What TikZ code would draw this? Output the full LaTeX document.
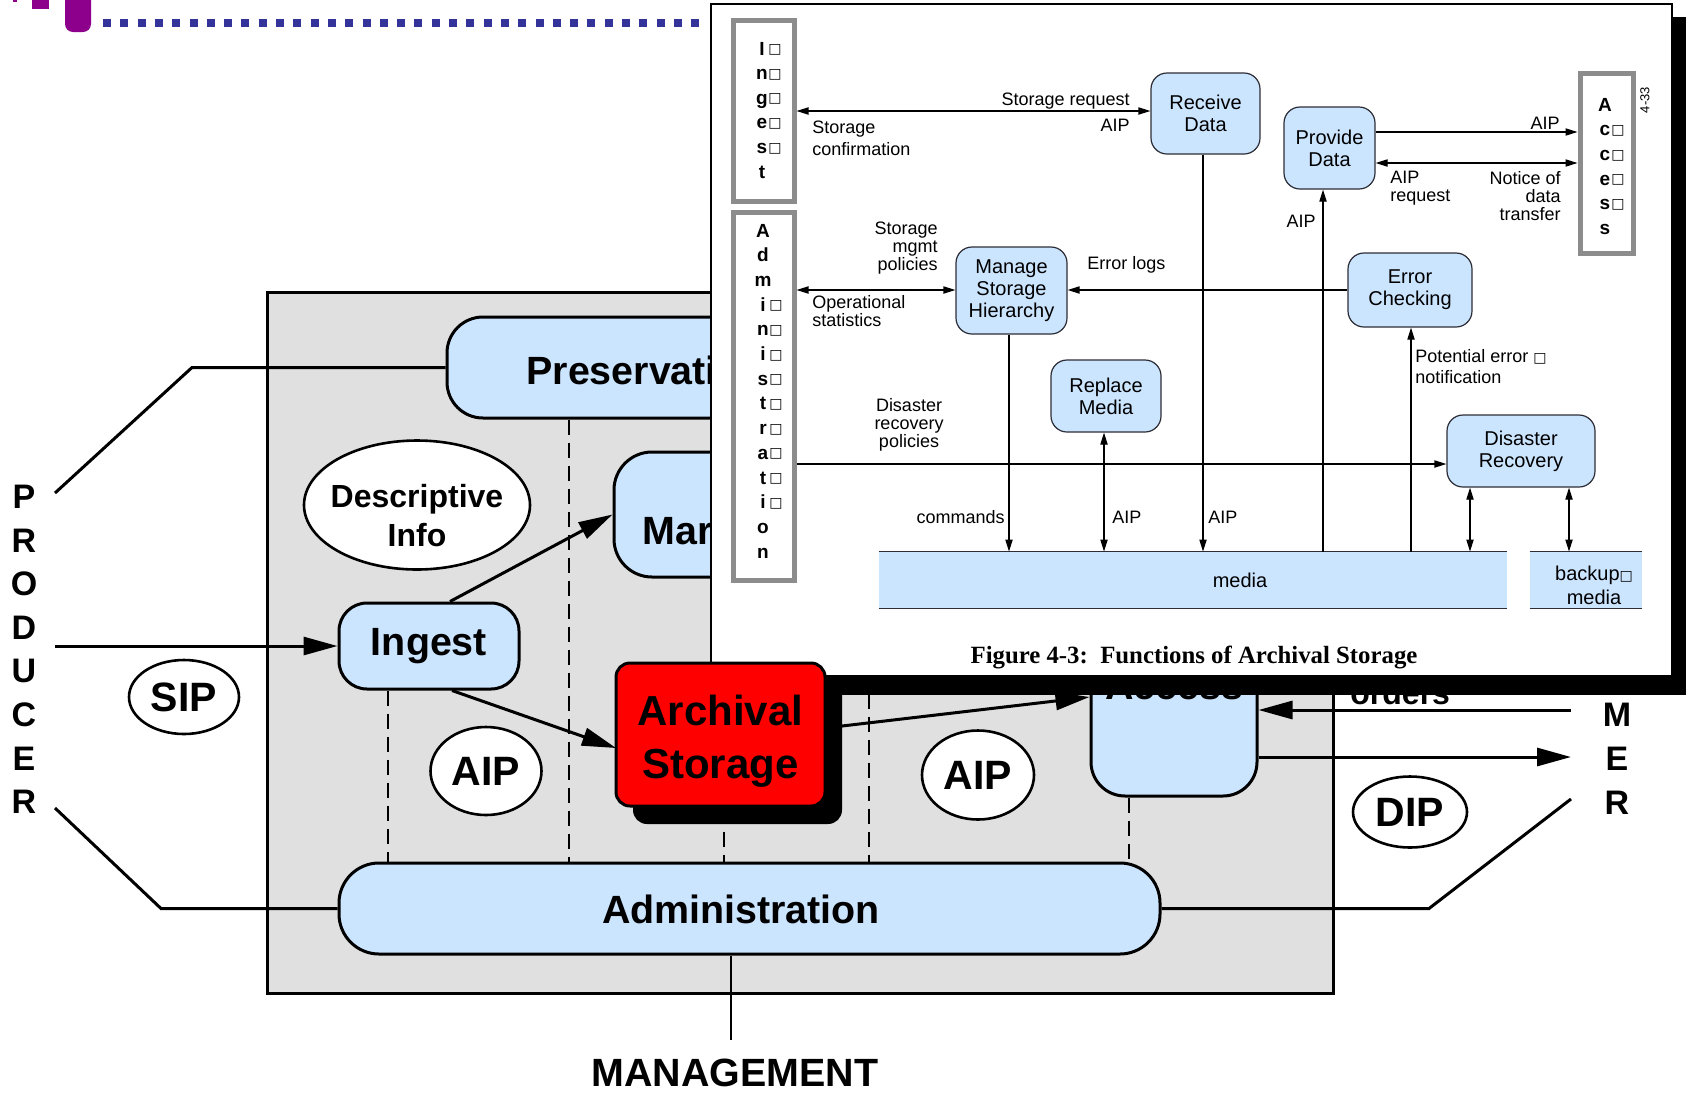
\documentclass[tikz,border=0pt]{standalone}
\usepackage{fontspec}
\setmainfont{Liberation Sans}
\newfontfamily\capfont{Liberation Serif}
\newfontfamily\symfont{DejaVu Sans}
\usetikzlibrary{shapes.geometric,arrows.meta}
\definecolor{skyfill}{RGB}{204,229,255}
\definecolor{hatchgray}{RGB}{224,224,224}
\definecolor{framegray}{RGB}{140,140,140}
\definecolor{inkline}{RGB}{45,45,55}
\definecolor{logopurple}{RGB}{140,0,140}
\definecolor{dotblue}{RGB}{51,51,153}
\definecolor{alarmred}{RGB}{255,0,0}
\newcommand\gapglyph{{\symfont\fontsize{7}{7}\selectfont □}}
\tikzset{
  mainbox/.style={draw=black, line width=1.5pt, fill=skyfill, inner sep=0pt},
  oval/.style={ellipse, draw=black, line width=1.3pt, fill=white, inner sep=0pt,
    font=\fontsize{20.5}{22}\selectfont\bfseries},
  bigtext/.style={font=\fontsize{19.7}{22}\selectfont\bfseries, inner sep=0pt},
  sideletter/.style={font=\fontsize{17}{18}\selectfont\bfseries, inner sep=0pt},
  midtext/.style={font=\fontsize{16}{19.5}\selectfont\bfseries, inner sep=0pt},
  heavyline/.style={line width=1.5pt},
  heavyarrow/.style={line width=1.5pt, -{Triangle[length=17pt,width=9pt]}},
  dashrule/.style={line width=1pt, dash pattern=on 7.5pt off 4pt},
  fnbox/.style={draw=inkline, line width=0.6pt, fill=skyfill, rounded corners=8pt,
    inner sep=0pt, align=center, font=\fontsize{10}{11}\selectfont},
  entityframe/.style={draw=framegray, line width=2.5pt, fill=white, inner sep=0pt},
  frameletter/.style={font=\fontsize{9.5}{10}\selectfont\bfseries, inner sep=0pt, anchor=base},
  gapmark/.style={inner sep=0pt},
  thinflow/.style={line width=0.6pt, -{Triangle[length=6pt,width=3.6pt]}},
  thinboth/.style={line width=0.6pt, {Triangle[length=6pt,width=3.6pt]}-{Triangle[length=6pt,width=3.6pt]}},
  flowlabel/.style={font=\fontsize{9}{9}\selectfont, inner sep=0pt},
}
\begin{document}
\begin{tikzpicture}[x=0.5pt,y=-0.5pt]
\useasboundingbox (0,0) rectangle (1686,1093);

% logo fragment and dotted title rule
\fill[logopurple, rounded corners=4pt] (65,-20) rectangle (91,32);
\fill[logopurple] (32,-5) rectangle (49,9);
\fill[logopurple] (13,-5) rectangle (17,2);
\foreach \i in {0,...,34}
  \fill[dotblue] ({103+17.3*\i},18.5) rectangle ++(8,8);

% archive boundary
\node[draw=black, line width=1.5pt, fill=hatchgray, inner sep=0pt,
      minimum width=533pt, minimum height=350.5pt] (archivebg) at (800,642.5) {};

% OAIS functional entities
\node[mainbox, rounded corners=18pt, minimum width=326.5pt, minimum height=50.5pt] (pres) at (773.5,367.5) {};
\node[mainbox, rounded corners=19pt, minimum width=193pt, minimum height=62.5pt] (mgmt) at (807,514.5) {};
\node[mainbox, rounded corners=17pt, minimum width=83pt, minimum height=98pt] (acc) at (1174,698) {};
\node[mainbox, rounded corners=20pt, minimum width=410.5pt, minimum height=45.5pt] (adm) at (749.5,908.5) {};
\node[mainbox, rounded corners=14pt, minimum width=90pt, minimum height=43pt, bigtext] (ingest) at (429,646) {Ingest};

\node[bigtext] (admlabel) at (741,909) {Administration};
\node[bigtext, anchor=base west] (preslabel) at (526,384) {Preservati};
\node[bigtext, anchor=base west] (mgmtlabel) at (642,544) {Mar};
\node[bigtext, anchor=base] (acclabel) at (1174,699) {Access};

% dashed links down to Administration
\coordinate (dA) at (388,0);
\coordinate (dB) at (569,0);
\coordinate (dC) at (724,0);
\coordinate (dD) at (869,0);
\coordinate (dE) at (1129,0);
\draw[dashrule] (ingest.south -| dA) -- (adm.north -| dA);
\draw[dashrule] (pres.south -| dB) -- (adm.north -| dB);
\draw[dashrule] (mgmt.south -| dC) -- (adm.north -| dC);
\draw[dashrule] (mgmt.south -| dD) -- (adm.north -| dD);
\draw[dashrule] (acc.south -| dE) -- (adm.north -| dE);

% information packages
\node[oval, minimum width=113pt, minimum height=64.5pt] (desc) at (417,505) {};
\node[inner sep=0pt, align=center, font=\fontsize{16}{19.5}\selectfont\bfseries] (desclabel) at (417,515.5) {Descriptive\\Info};
\node[oval, minimum width=55pt, minimum height=37pt] (sip) at (184,697) {SIP};
\node[oval, minimum width=55.5pt, minimum height=44pt] (aipl) at (486,771) {AIP};
\node[oval, minimum width=56pt, minimum height=44.5pt] (aipr) at (978,775) {AIP};
\node[oval, minimum width=57pt, minimum height=35.5pt] (dip) at (1410,812) {DIP};

% producer / consumer / management
\foreach \ch [count=\k] in {P,R,O,D,U,C,E,R}
  \node[sideletter] (prod\k) at (24,{497+43.6*(\k-1)}) {\ch};
\foreach \ch/\yy [count=\k] in {M/715,E/759,R/803}
  \node[sideletter] (cons\k) at (1617,\yy) {\ch};
\node[midtext, anchor=base west] (orderslabel) at (1350,704) {orders};
\node[bigtext] (mgmtword) at (735,1073) {MANAGEMENT};

\coordinate (pTop) at (55,493);
\coordinate (pTopBend) at (192,0);
\coordinate (pMid) at (55,646);
\coordinate (pLow) at (55,808);
\coordinate (pLowBend) at (161,0);
\coordinate (cLow) at (1571,799);
\coordinate (cLowBend) at (1429,0);
\coordinate (cOrd) at (1571,710);
\coordinate (cOut) at (1571,757);
\coordinate (mFoot) at (731,1040);

\draw[heavyline] (pTop) -- (pTopBend |- pres.west) -- (pres.west);
\draw[heavyarrow] (pMid) -- (ingest.west);
\draw[heavyline] (pLow) -- (pLowBend |- adm.west) -- (adm.west);
\draw[heavyline] (adm.east) -- (cLowBend |- adm.east) -- (cLow);
\draw[heavyarrow] (cOrd) -- (acc.east |- cOrd);
\draw[heavyarrow] (acc.east |- cOut) -- (cOut);
\draw[line width=1pt] (adm.south -| mFoot) -- (mFoot);

% internal flows
\coordinate (fA) at (450,0);
\coordinate (fB) at (452,0);
\coordinate (fE) at (0,697);
\coordinate (archIn) at (616,748);
\coordinate (archOut) at (825,728);
\draw[heavyarrow] (ingest.north -| fA) -- (mgmt.west);
\draw[heavyarrow] (ingest.south -| fB) -- (archIn);
\draw[heavyarrow] (archOut) -- (acc.west |- fE);

% ---------- Functions of Archival Storage figure ----------
\node[fill=black, inner sep=0pt, minimum width=480.5pt, minimum height=339pt] (figshadow) at (1209.5,356) {};
\node[draw=black, line width=1pt, fill=white, inner sep=0pt, minimum width=480.5pt, minimum height=336pt] (figframe) at (1191.5,340) {};

\node[entityframe, minimum width=30.5pt, minimum height=90.5pt] (ingframe) at (763.5,110.5) {};
\node[entityframe, minimum width=30.5pt, minimum height=184pt] (admframe) at (763.5,396) {};
\node[entityframe, minimum width=26.5pt, minimum height=90pt] (accframe) at (1606.5,163) {};

\foreach \ch [count=\k] in {I,n,g,e,s,t}
  \node[frameletter] (inglet\k) at (762,{55+24.6*(\k-1)}) {\ch};
\foreach \k in {1,...,5}
  \node[gapmark] (inggap\k) at (775,{50+24.6*(\k-1)}) {\gapglyph};
\foreach \ch [count=\k] in {A,d,m,i,n,i,s,t,r,a,t,i,o,n}
  \node[frameletter] (admlet\k) at (763,{237+24.7*(\k-1)}) {\ch};
\foreach \k in {4,...,12}
  \node[gapmark] (admgap\k) at (776,{232+24.7*(\k-1)}) {\gapglyph};
\foreach \ch [count=\k] in {A,c,c,e,s,s}
  \node[frameletter] (acclet\k) at (1605,{111+24.7*(\k-1)}) {\ch};
\foreach \k in {2,...,5}
  \node[gapmark] (accgap\k) at (1618,{106+24.7*(\k-1)}) {\gapglyph};

\node[rotate=90, inner sep=0pt, font=\fontsize{6.5}{7}\selectfont] (pagetag) at (1645,100) {4-33};

\node[fnbox, minimum width=54.5pt, minimum height=40.5pt] (recv) at (1205.5,113.5) {Receive\\Data};
\node[fnbox, minimum width=45.5pt, minimum height=41pt] (prov) at (1329.5,148) {Provide\\Data};
\node[fnbox, minimum width=55.5pt, minimum height=43.5pt] (msh) at (1011.5,290.5) {Manage\\Storage\\Hierarchy};
\node[fnbox, minimum width=62pt, minimum height=37pt] (errc) at (1410,290) {Error\\Checking};
\node[fnbox, minimum width=55pt, minimum height=36pt] (repl) at (1106,396) {Replace\\Media};
\node[fnbox, minimum width=74pt, minimum height=36pt] (dr) at (1521,451) {Disaster\\Recovery};

\node[fill=skyfill, inner sep=0pt, minimum width=314pt, minimum height=28pt] (media) at (1193,580) {};
\node[fill=skyfill, inner sep=0pt, minimum width=56pt, minimum height=28pt] (backup) at (1586,580) {};
\draw[inkline, line width=0.6pt] (media.north west) -- (media.north east);
\draw[inkline, line width=0.9pt] (media.south west) -- (media.south east);
\draw[inkline, line width=0.6pt] (backup.north west) -- (backup.north east);
\draw[inkline, line width=0.9pt] (backup.south west) -- (backup.south east);
\node[inner sep=0pt, font=\fontsize{10}{11}\selectfont] (medialabel) at (1240,580) {media};
\node[inner sep=0pt, align=center, font=\fontsize{10}{12}\selectfont] (backuplabel) at (1594,585) {backup\gapglyph\\media};

% flow coordinates
\coordinate (yIngest) at (0,111);
\coordinate (yAipOut) at (0,132);
\coordinate (yNotice) at (0,163);
\coordinate (yMgmt) at (0,290);
\coordinate (yDisaster) at (0,464);
\coordinate (xProv) at (1323,0);
\coordinate (xRecv) at (1203,0);
\coordinate (xMsh) at (1009,0);
\coordinate (xRepl) at (1104,0);
\coordinate (xErr) at (1411,0);
\coordinate (xDr) at (1470,0);
\coordinate (xBack) at (1569,0);

\draw[thinboth] (ingframe.east |- yIngest) -- (recv.west |- yIngest);
\draw[thinflow] (prov.east |- yAipOut) -- (accframe.west |- yAipOut);
\draw[thinboth] (prov.east |- yNotice) -- (accframe.west |- yNotice);
\draw[thinflow] (media.north -| xProv) -- (prov.south -| xProv);
\draw[thinflow] (recv.south -| xRecv) -- (media.north -| xRecv);
\draw[thinboth] (admframe.east |- yMgmt) -- (msh.west |- yMgmt);
\draw[thinflow] (errc.west |- yMgmt) -- (msh.east |- yMgmt);
\draw[thinflow] (msh.south -| xMsh) -- (media.north -| xMsh);
\draw[thinboth] (repl.south -| xRepl) -- (media.north -| xRepl);
\draw[thinflow] (media.north -| xErr) -- (errc.south -| xErr);
\draw[thinflow] (admframe.east |- yDisaster) -- (dr.west |- yDisaster);
\draw[thinboth] (media.north -| xDr) -- (dr.south -| xDr);
\draw[thinboth] (backup.north -| xBack) -- (dr.south -| xBack);

% flow labels
\node[flowlabel, anchor=east] (lbSreq) at (1130,101) {Storage request};
\node[flowlabel, anchor=east] (lbAip1) at (1130,125) {AIP};
\node[flowlabel, anchor=west, align=left, font=\fontsize{9}{11}\selectfont] (lbConf) at (812,138) {Storage\\confirmation};
\node[flowlabel, anchor=east] (lbAip2) at (1560,123) {AIP};
\node[flowlabel, anchor=west, align=left] (lbAreq) at (1390,188) {AIP\\request};
\node[flowlabel, anchor=east, align=right] (lbNotice) at (1561,196) {Notice of\\data\\transfer};
\node[flowlabel, anchor=east] (lbAip3) at (1316,221) {AIP};
\node[flowlabel, anchor=east, align=right] (lbSmp) at (938,248) {Storage\\mgmt\\policies};
\node[flowlabel, anchor=west, align=left] (lbOps) at (812,311) {Operational\\statistics};
\node[flowlabel, anchor=west] (lbErr) at (1087,265) {Error logs};
\node[flowlabel, anchor=west, align=left, font=\fontsize{9}{10.5}\selectfont] (lbPot) at (1415,367) {Potential error \gapglyph\\notification};
\node[flowlabel, align=center] (lbDrp) at (909,425) {Disaster\\recovery\\policies};
\node[flowlabel, anchor=east] (lbCmd) at (1005,517) {commands};
\node[flowlabel, anchor=west] (lbAip4) at (1112,517) {AIP};
\node[flowlabel, anchor=west] (lbAip5) at (1208,517) {AIP};

\node[inner sep=0pt, font=\capfont\bfseries\fontsize{12.4}{14}\selectfont] (figcap) at (1194,657) {Figure 4-3:\ \ Functions of Archival Storage};

% ---------- Archival Storage entity on top ----------
\node[fill=black, rounded corners=7pt, inner sep=0pt, minimum width=104.5pt, minimum height=71.5pt] (archshadow) at (737.5,752.5) {};
\node[draw=black, line width=1.5pt, fill=alarmred, rounded corners=7pt, inner sep=0pt,
      minimum width=104.5pt, minimum height=71.5pt] (arch) at (720.5,734.5) {};
\node[inner sep=0pt, align=center, font=\fontsize{21}{26.5}\selectfont\bfseries] (archlabel) at (720.5,741) {Archival\\Storage};
\end{tikzpicture}
\end{document}
